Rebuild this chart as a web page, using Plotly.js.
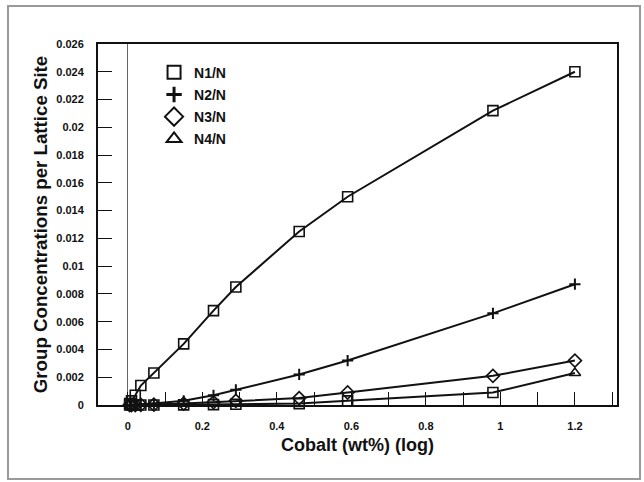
<!DOCTYPE html>
<html>
<head>
<meta charset="utf-8">
<script src="https://cdn.plot.ly/plotly-3.0.1.min.js"></script>
<style>
  html, body { margin: 0; padding: 0; background: #ffffff; }
  #wrap { position: relative; width: 644px; height: 482px; }
  #chart { position: absolute; left: 0; top: 0; width: 644px; height: 482px; }
  #frame { position: absolute; left: 7px; top: 5px; width: 630px; height: 471px;
           border: 2px solid #9a9a9a; pointer-events: none; }
</style>
</head>
<body>
<div id="wrap">
  <div id="chart"></div>
  <div id="frame"></div>
</div>
<script>
// Cobalt content (wt%), shared by all series
const cobalt = [0.005, 0.01, 0.02, 0.035, 0.07, 0.15, 0.23, 0.29, 0.46, 0.59, 0.98, 1.2];

// Group concentrations per lattice site
const n1 = [0.0001, 0.0003, 0.0007, 0.0014, 0.0023, 0.0044, 0.0068, 0.0085, 0.0125, 0.0150, 0.0212, 0.0240];
const n2 = [0.0, 0.0, 0.00002, 0.00005, 0.0001, 0.0003, 0.0007, 0.0011, 0.0022, 0.0032, 0.0066, 0.0087];
const n3 = [0.0, 0.0, 0.0, 0.00001, 0.00003, 0.0001, 0.0002, 0.0003, 0.0005, 0.0009, 0.0021, 0.0032];
const n4 = [0.0, 0.0, 0.0, 0.0, 0.0, 0.00001, 0.00003, 0.00005, 0.0001, 0.0003, 0.0009, 0.0023];

const seriesNames = ["N1/N", "N2/N", "N3/N", "N4/N"];

const xTickVals = [0, 0.2, 0.4, 0.6, 0.8, 1, 1.2];
const xTickLabels = ["0", "0.2", "0.4", "0.6", "0.8", "1", "1.2"];
const yTickVals = [0, 0.002, 0.004, 0.006, 0.008, 0.01, 0.012, 0.014, 0.016, 0.018, 0.02, 0.022, 0.024, 0.026];
const yTickLabels = ["0", "0.002", "0.004", "0.006", "0.008", "0.01", "0.012", "0.014", "0.016", "0.018", "0.02", "0.022", "0.024", "0.026"];

// ---- styling ----
const ink = "#111111";
const symbols = ["square-open", "cross-thin-open", "diamond-open", "triangle-up-open"];
const lineSizes = [10, 8, 10, 10];
const legendSizes = [13, 11, 14, 13];
// as seen in the picture, the lowest curve carries square marks except at its end
const n4Symbols = cobalt.map((_, i) => i === cobalt.length - 1 ? "triangle-up-open" : "square-open");

const ys = [n1, n2, n3, n4];
const traces = [];
ys.forEach((y, k) => {
  traces.push({
    x: cobalt, y: y, type: "scatter", mode: "lines+markers",
    name: seriesNames[k], showlegend: false,
    line: { color: ink, width: 2 },
    marker: {
      symbol: k === 3 ? n4Symbols : symbols[k],
      size: lineSizes[k],
      color: ink,
      line: { color: ink, width: k === 1 ? 2 : 1.6 }
    },
    cliponaxis: false
  });
});
// legend-only entries (symbol without line)
seriesNames.forEach((nm, k) => {
  traces.push({
    x: [null], y: [null], type: "scatter", mode: "markers",
    name: nm, showlegend: true, legendgroup: "g" + k,
    marker: { symbol: symbols[k], size: legendSizes[k], color: ink, line: { color: ink, width: k === 1 ? 3 : 2 } }
  });
});

const layout = {
  width: 644, height: 482,
  margin: { l: 98, r: 27, t: 44, b: 77, pad: 0 },
  paper_bgcolor: "rgba(0,0,0,0)",
  plot_bgcolor: "#ffffff",
  font: { family: "Liberation Sans, Arial, sans-serif", color: ink },
  showlegend: true,
  legend: {
    x: 0.108, y: 0.965, xanchor: "left", yanchor: "top",
    bgcolor: "rgba(0,0,0,0)", borderwidth: 0,
    font: { size: 14, family: "Liberation Sans, Arial, sans-serif", weight: "bold", color: ink },
    traceorder: "grouped", tracegroupgap: 1, itemwidth: 30
  },
  xaxis: {
    range: [-0.08, 1.313],
    tickmode: "array", tickvals: xTickVals, ticktext: xTickLabels,
    ticks: "inside", ticklen: 13, tickwidth: 1, tickcolor: ink,
    minor: { dtick: 0.1, tick0: 0, ticks: "inside", ticklen: 13, tickwidth: 1, tickcolor: ink, showgrid: false },
    showgrid: false,
    zeroline: true, zerolinecolor: "#666666", zerolinewidth: 1,
    showline: true, linecolor: ink, linewidth: 2, mirror: true,
    tickfont: { size: 11, weight: "bold", color: ink },
    ticklabelstandoff: 10,
    title: { text: "Cobalt (wt%) (log)", font: { size: 18, weight: "bold", color: ink }, standoff: 7 }
  },
  yaxis: {
    range: [0, 0.026],
    tickmode: "array", tickvals: yTickVals, ticktext: yTickLabels,
    ticks: "inside", ticklen: 14, tickwidth: 1, tickcolor: ink,
    showgrid: false, zeroline: false,
    showline: true, linecolor: ink, linewidth: 2, mirror: true,
    tickfont: { size: 11, weight: "bold", color: ink },
    ticklabelstandoff: 10,
    title: { text: "Group Concentrations per Lattice Site", font: { size: 18.7, weight: "bold", color: ink }, standoff: 4 }
  }
};

Plotly.newPlot("chart", traces, layout, { displayModeBar: false, staticPlot: true });
</script>
</body>
</html>
